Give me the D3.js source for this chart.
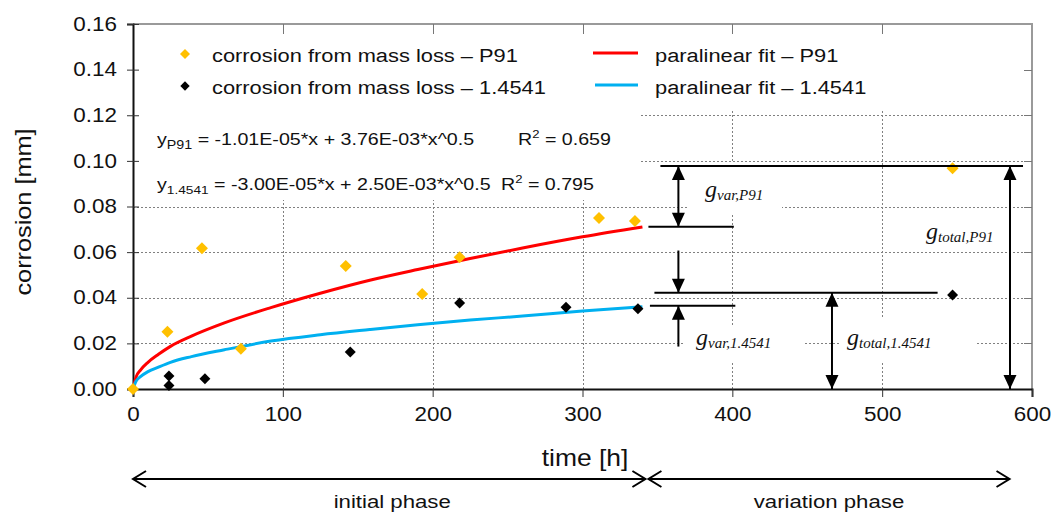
<!DOCTYPE html>
<html>
<head>
<meta charset="utf-8">
<script src="https://cdn.jsdelivr.net/npm/d3@7"></script>
<style>
  body { margin: 0; background: #fff; }
  svg { font-family: "Liberation Sans", Arial, sans-serif; }
</style>
</head>
<body>
<div id="chart"></div>
<script>
// Corrosion vs. time: measured points, paralinear fits and gap annotations

// axis ticks
const xTicks = [0, 100, 200, 300, 400, 500, 600];
const yTicks = [0, 0.02, 0.04, 0.06, 0.08, 0.10, 0.12, 0.14, 0.16];

// corrosion from mass loss - P91
const p91Time = [0, 23, 46, 72, 142, 193, 218, 311, 335, 547];
const p91Corr = [0, 0.0251, 0.0617, 0.0176, 0.0539, 0.0416, 0.0577, 0.0750, 0.0736, 0.0968];

// corrosion from mass loss - 1.4541
const ssTime = [24, 24, 48, 145, 218, 289, 337, 547];
const ssCorr = [0.0057, 0.0015, 0.0045, 0.0162, 0.0377, 0.0358, 0.0352, 0.0412];

// paralinear fit curves
const fitTime = [0, 2, 5, 10, 17, 25, 39, 61, 92, 125, 158, 190, 225, 260, 300, 340];
const fitP91 = [0, 0.0052, 0.0083, 0.0117, 0.0152, 0.0187, 0.0232, 0.0290, 0.0357, 0.0420, 0.0477, 0.0524, 0.0572, 0.0618, 0.0667, 0.0710];
const fit4541 = [0, 0.0034, 0.0054, 0.0076, 0.0096, 0.0117, 0.0142, 0.0172, 0.0210, 0.0238, 0.0261, 0.0282, 0.0302, 0.0320, 0.0342, 0.0361];

// gap levels used by the annotation arrows [mm]
const levelTotalP91 = 0.0978;
const levelFitP91 = 0.0711;
const levelTotal4541 = 0.0422;
const levelFit4541 = 0.0365;

// phase boundaries [h]
const phases = [
  { label: "initial phase", from: 0, to: 342 },
  { label: "variation phase", from: 344, to: 585 }
];

const width = 1054;
const height = 513;
const stretch = 1.15; // the original text is a bit wider than tall

const x = d3.scaleLinear().domain([0, 600]).range([133, 1032]);
const y = d3.scaleLinear().domain([0, 0.16]).range([389, 24]);

const svg = d3.select("#chart").append("svg")
  .attr("width", width)
  .attr("height", height);

// text helper: places text at (px,py) and widens it horizontally
function label(parent, px, py, size, k, anchor) {
  return parent.append("text")
    .attr("transform", `translate(${px},${py}) scale(${k},1)`)
    .attr("font-size", size)
    .attr("text-anchor", anchor || "start")
    .attr("fill", "#111");
}

// grid
const grid = svg.append("g").attr("stroke", "#808080").attr("stroke-width", 1)
  .attr("stroke-dasharray", "2,2");
grid.selectAll("line.h")
  .data(yTicks.slice(1, -1))
  .join("line")
  .attr("x1", x(0)).attr("x2", x(600))
  .attr("y1", d => Math.round(y(d)) + 0.5).attr("y2", d => Math.round(y(d)) + 0.5);
grid.selectAll("line.v")
  .data(xTicks.slice(1, -1))
  .join("line")
  .attr("y1", y(0)).attr("y2", y(0.16))
  .attr("x1", d => Math.round(x(d)) + 0.5).attr("x2", d => Math.round(x(d)) + 0.5);

// white boxes behind legend, equations and labels (they cut the grid)
const boxes = [
  [134, 25, 1030, 109],
  [134, 109, 641, 200],
  [688, 163, 782, 215],
  [684, 326, 803, 362],
  [840, 318, 976, 362]
];
svg.append("g").selectAll("rect")
  .data(boxes)
  .join("rect")
  .attr("x", d => d[0]).attr("y", d => d[1])
  .attr("width", d => d[2] - d[0]).attr("height", d => d[3] - d[1])
  .attr("fill", "#fff");

// frame top/right
svg.append("path")
  .attr("d", `M${x(0)},${y(0.16)}H${x(600)}V${y(0)}`)
  .attr("fill", "none").attr("stroke", "#9a9a9a").attr("stroke-width", 2);

// mirrored ticks on top/right
const mir = svg.append("g").attr("stroke", "#777").attr("stroke-width", 1);
mir.selectAll("line.t").data(xTicks.slice(1, -1)).join("line")
  .attr("x1", d => Math.round(x(d)) + 0.5).attr("x2", d => Math.round(x(d)) + 0.5)
  .attr("y1", y(0.16)).attr("y2", y(0.16) + 10);
mir.selectAll("line.r").data(yTicks.slice(1, -1)).join("line")
  .attr("y1", d => Math.round(y(d)) + 0.5).attr("y2", d => Math.round(y(d)) + 0.5)
  .attr("x1", x(600) - 8).attr("x2", x(600));

// axes
const yAxis = svg.append("g")
  .attr("transform", `translate(${x(0)},0)`)
  .call(d3.axisLeft(y).tickValues(yTicks).tickFormat(d3.format(".2f")).tickSize(6).tickPadding(8));
const xAxis = svg.append("g")
  .attr("transform", `translate(0,${y(0)})`)
  .call(d3.axisBottom(x).tickValues(xTicks).tickSize(8).tickPadding(10));
[xAxis, yAxis].forEach(a => {
  a.select(".domain").attr("stroke", "#111").attr("stroke-width", 2);
  a.selectAll(".tick line").attr("stroke", "#333");
  a.selectAll(".tick text").attr("font-size", 19.5).attr("fill", "#111")
    .attr("font-family", "Liberation Sans, Arial, sans-serif")
    .attr("transform", `scale(${stretch},1)`);
});
yAxis.selectAll(".tick line").attr("x2", -6).attr("x1", 6);

// axis titles
label(svg, 31, 212, 22, stretch, "middle")
  .attr("transform", `translate(31,212) rotate(-90) scale(${stretch},1)`)
  .text("corrosion [mm]");
label(svg, 585, 466, 23, stretch, "middle").text("time [h]");

// fit curves
const fitLine = vals => d3.line()
  .x((d, i) => x(fitTime[i]))
  .y((d, i) => y(vals[i]))
  .curve(d3.curveMonotoneX)(vals);
svg.append("path").attr("d", fitLine(fitP91))
  .attr("fill", "none").attr("stroke", "#ff0000").attr("stroke-width", 3);
svg.append("path").attr("d", fitLine(fit4541))
  .attr("fill", "none").attr("stroke", "#00b0f0").attr("stroke-width", 3);

// diamonds
const diamond = d3.symbol().type(d3.symbolSquare);
svg.append("g").selectAll("path")
  .data(ssTime.map((t, i) => [t, ssCorr[i]]))
  .join("path")
  .attr("d", diamond.size(60)())
  .attr("transform", d => `translate(${x(d[0])},${y(d[1])}) rotate(45)`)
  .attr("fill", "#000");
svg.append("g").selectAll("path")
  .data(p91Time.map((t, i) => [t, p91Corr[i]]))
  .join("path")
  .attr("d", diamond.size(72)())
  .attr("transform", d => `translate(${x(d[0])},${y(d[1])}) rotate(45)`)
  .attr("fill", "#ffc000");

// legend
const legend = svg.append("g");
legend.append("path").attr("d", diamond.size(50)())
  .attr("transform", "translate(185,54) rotate(45)").attr("fill", "#ffc000");
legend.append("path").attr("d", diamond.size(44)())
  .attr("transform", "translate(185,86) rotate(45)").attr("fill", "#000");
label(legend, 212, 62, 19, stretch).text("corrosion from mass loss \u2013 P91");
label(legend, 212, 94, 19, stretch).text("corrosion from mass loss \u2013 1.4541");
legend.append("line").attr("x1", 593).attr("x2", 638).attr("y1", 53).attr("y2", 53)
  .attr("stroke", "#ff0000").attr("stroke-width", 3);
legend.append("line").attr("x1", 595).attr("x2", 638).attr("y1", 85).attr("y2", 85)
  .attr("stroke", "#00b0f0").attr("stroke-width", 3);
label(legend, 655, 62, 19, stretch).text("paralinear fit \u2013 P91");
label(legend, 655, 94, 19, stretch).text("paralinear fit \u2013 1.4541");

// fit equations
function equation(yPos, sub, subSize, body, rx, r2) {
  const t = label(svg, 157, yPos, 16.5, 1.19);
  t.append("tspan").text("y");
  t.append("tspan").attr("font-size", subSize).attr("dy", 4).text(sub);
  t.append("tspan").attr("dy", -4).text(" " + body);
  const r = label(svg, rx, yPos, 16.5, 1.19);
  r.append("tspan").text("R");
  r.append("tspan").attr("font-size", 11).attr("dy", -7).text("2");
  r.append("tspan").attr("dy", 7).text(" = " + r2);
}
equation(145, "P91", 12, "= -1.01E-05*x + 3.76E-03*x^0.5", 518, "0.659");
equation(190, "1.4541", 11.5, "= -3.00E-05*x + 2.50E-03*x^0.5", 501, "0.795");

// gap annotations
const ann = svg.append("g").attr("stroke", "#000").attr("stroke-width", 2);
function hline(v, a, b) {
  ann.append("line").attr("x1", x(a)).attr("x2", x(b))
    .attr("y1", y(v)).attr("y2", y(v));
}
function head(px, py, dir) {
  // filled triangle, tip at (px,py), dir = +1 pointing down, -1 pointing up
  svg.append("path")
    .attr("d", `M${px},${py}L${px - 6.5},${py - dir * 14}L${px + 6.5},${py - dir * 14}Z`)
    .attr("fill", "#000");
}
function arrow(t, v1, v2, headTop, headBottom) {
  const px = x(t);
  ann.append("line").attr("x1", px).attr("x2", px)
    .attr("y1", y(v1)).attr("y2", y(v2));
  if (headTop) head(px, y(v1), -1);
  if (headBottom) head(px, y(v2), 1);
}
hline(levelTotalP91, 352, 594);
hline(levelFitP91, 344, 401);
hline(levelTotal4541, 348, 537);
hline(levelFit4541, 345, 402);
arrow(364, levelTotalP91, levelFitP91, true, true);
arrow(364, 0.0607, levelTotal4541, false, true);
arrow(364, levelFit4541, 0.0186, true, false);
arrow(466.5, levelTotal4541, 0, true, true);
arrow(585.3, levelTotalP91, 0, true, true);

// gap labels (serif italic, subscripted)
function gLabel(px, py, sub) {
  const t = svg.append("text").attr("x", px).attr("y", py)
    .attr("font-family", "Liberation Serif, Times New Roman, serif")
    .attr("font-style", "italic").attr("fill", "#111");
  t.append("tspan").attr("font-size", 24).text("g");
  t.append("tspan").attr("font-size", 15).attr("dy", 3).text(sub);
}
gLabel(705, 197, "var,P91");
gLabel(696, 345, "var,1.4541");
gLabel(847, 345, "total,1.4541");
gLabel(926, 239, "total,P91");

// phase arrows below the axis
const ph = svg.append("g").attr("stroke", "#000").attr("stroke-width", 2).attr("fill", "none");
const phaseY = 479;
phases.forEach(p => {
  const a = x(p.from), b = x(p.to);
  ph.append("path").attr("d",
    `M${a},${phaseY}H${b}M${a + 13},${phaseY - 8}L${a},${phaseY}L${a + 13},${phaseY + 8}` +
    `M${b - 13},${phaseY - 8}L${b},${phaseY}L${b - 13},${phaseY + 8}`);
  label(svg, (a + b) / 2 + (p.from === 0 ? 3 : 0), 508, 18.5, 1.2, "middle").text(p.label);
});
</script>
</body>
</html>
